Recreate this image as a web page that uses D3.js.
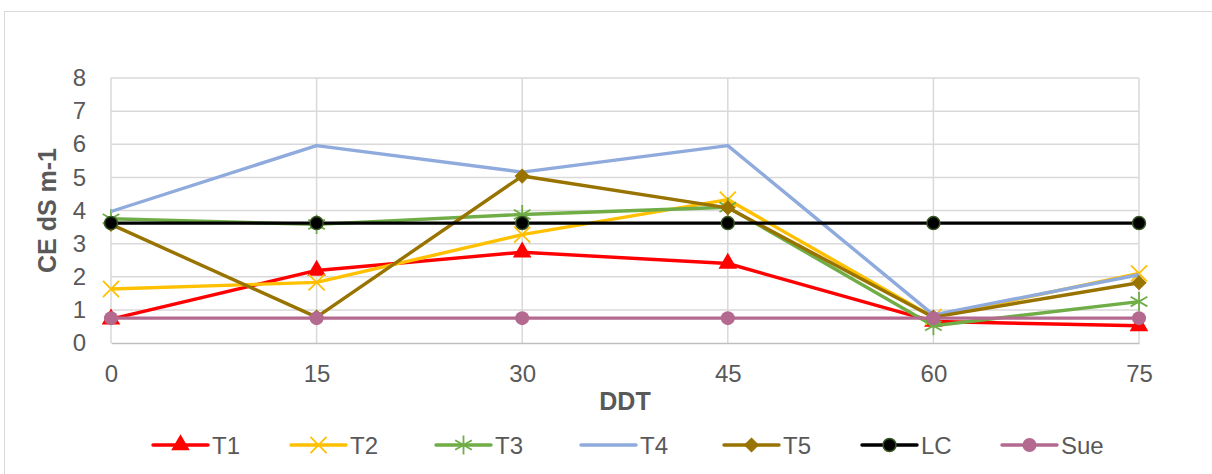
<!DOCTYPE html>
<html>
<head>
<meta charset="utf-8">
<script src="https://cdn.jsdelivr.net/npm/d3@7"></script>
<style>
  body { margin: 0; background: #fff; }
  text { font-family: "Liberation Sans", Arial, sans-serif; fill: #595959; }
</style>
</head>
<body>
<div id="chart"></div>
<script>
// x categories (DDT) and the series
const ddt = [0, 15, 30, 45, 60, 75];
const t1 = [0.72, 2.19, 2.74, 2.40, 0.65, 0.52];
const t2 = [1.63, 1.83, 3.27, 4.33, 0.78, 2.10];
const t3 = [3.75, 3.58, 3.88, 4.10, 0.52, 1.25];
const t4 = [3.97, 5.96, 5.16, 5.96, 0.85, 2.06];
const t5 = [3.58, 0.78, 5.04, 4.08, 0.78, 1.82];
const lc = [3.62, 3.62, 3.62, 3.62, 3.62, 3.62];
const sue = [0.75, 0.75, 0.75, 0.75, 0.75, 0.75];
const yTicks = [0, 1, 2, 3, 4, 5, 6, 7, 8];

const series = [
  { name: "T1", values: t1, color: "#ff0000", marker: "triangle" },
  { name: "T2", values: t2, color: "#ffc000", marker: "times" },
  { name: "T3", values: t3, color: "#70ad47", marker: "asterisk" },
  { name: "T4", values: t4, color: "#8faadc", marker: "none" },
  { name: "T5", values: t5, color: "#997300", marker: "diamond" },
  { name: "LC", values: lc, color: "#000000", marker: "circleLC" },
  { name: "Sue", values: sue, color: "#b4698f", marker: "circle" }
];

const W = 1212, H = 474;
const plot = { left: 111, right: 1139, top: 78, bottom: 343 };

const svg = d3.select("#chart").append("svg")
    .attr("width", W)
    .attr("height", H);

// outer chart border
svg.append("rect")
    .attr("x", 4.5).attr("y", 11.5)
    .attr("width", 1230).attr("height", 500)
    .attr("fill", "none")
    .attr("stroke", "#d9d9d9");

const x = d3.scaleLinear().domain([0, 75]).range([plot.left, plot.right]);
const y = d3.scaleLinear().domain([0, 8]).range([plot.bottom, plot.top]);

// gridlines
svg.append("g").selectAll("line.h")
    .data(yTicks.slice(1))
    .enter().append("line")
    .attr("x1", plot.left).attr("x2", plot.right)
    .attr("y1", d => y(d)).attr("y2", d => y(d))
    .attr("stroke", "#d9d9d9").attr("stroke-width", 1.5);

svg.append("g").selectAll("line.v")
    .data(ddt)
    .enter().append("line")
    .attr("x1", d => x(d)).attr("x2", d => x(d))
    .attr("y1", plot.top).attr("y2", plot.bottom)
    .attr("stroke", "#d9d9d9").attr("stroke-width", 1.5);

// y axis
const yAxis = svg.append("g")
    .attr("transform", "translate(" + (plot.left - 22) + ",0)")
    .call(d3.axisLeft(y).tickValues(yTicks).tickSize(0).tickFormat(d3.format("d")));
yAxis.select(".domain").remove();
yAxis.selectAll("text").attr("font-size", 24).attr("fill", "#595959").attr("font-family", null);

// x axis
const xAxis = svg.append("g")
    .attr("transform", "translate(0," + plot.bottom + ")")
    .call(d3.axisBottom(x).tickValues(ddt).tickSize(0).tickPadding(22).tickFormat(d3.format("d")));
xAxis.select(".domain").attr("stroke", "#bfbfbf").attr("stroke-width", 1.5);
xAxis.selectAll("text").attr("font-size", 24).attr("fill", "#595959").attr("font-family", null);

// axis titles
svg.append("text")
    .attr("x", (plot.left + plot.right) / 2)
    .attr("y", 410)
    .attr("text-anchor", "middle")
    .attr("font-size", 25)
    .attr("font-weight", "bold")
    .text("DDT");

svg.append("text")
    .attr("transform", "translate(56," + ((plot.top + plot.bottom) / 2) + ") rotate(-90)")
    .attr("text-anchor", "middle")
    .attr("font-size", 25)
    .attr("font-weight", "bold")
    .text("CE dS m-1");

function drawMarker(g, s) {
  if (s.marker === "none") return;
  if (s.marker === "triangle") {
    g.append("path").attr("d", d3.symbol(d3.symbolTriangle, 150)())
      .attr("fill", s.color);
  } else if (s.marker === "times") {
    g.append("path").attr("d", d3.symbol(d3.symbolTimes, 170)())
      .attr("fill", "none").attr("stroke", s.color).attr("stroke-width", 1.8);
  } else if (s.marker === "asterisk") {
    g.append("path").attr("d", d3.symbol(d3.symbolAsterisk, 260)())
      .attr("fill", "none").attr("stroke", s.color).attr("stroke-width", 1.8);
  } else if (s.marker === "diamond") {
    g.append("path").attr("d", d3.symbol(d3.symbolSquare, 95)())
      .attr("transform", "rotate(45)")
      .attr("fill", s.color).attr("stroke", s.color);
  } else if (s.marker === "circleLC") {
    g.append("circle").attr("r", 6.5)
      .attr("fill", "#000").attr("stroke", "#375623").attr("stroke-width", 1.5);
  } else if (s.marker === "circle") {
    g.append("circle").attr("r", 7).attr("fill", s.color);
  }
}

const line = d3.line()
    .x((d, i) => x(ddt[i]))
    .y(d => y(d));

series.forEach(s => {
  const g = svg.append("g");
  g.append("path")
    .attr("d", line(s.values))
    .attr("fill", "none")
    .attr("stroke", s.color)
    .attr("stroke-width", 3.4)
    .attr("stroke-linejoin", "round");
  s.values.forEach((v, i) => {
    const m = g.append("g").attr("transform", "translate(" + x(ddt[i]) + "," + y(v) + ")");
    drawMarker(m, s);
  });
});

// legend
const legendX = [153, 291, 436, 581, 724, 862, 1002];
const legendY = 445;
series.forEach((s, i) => {
  const lg = svg.append("g").attr("transform", "translate(" + legendX[i] + "," + legendY + ")");
  lg.append("line")
    .attr("x1", 0).attr("x2", 55)
    .attr("stroke", s.color).attr("stroke-width", 3.4)
    .attr("stroke-linecap", "round");
  const m = lg.append("g").attr("transform", "translate(27.5,0)");
  drawMarker(m, s);
  lg.append("text")
    .attr("x", 59)
    .attr("y", 8.5)
    .attr("font-size", 24)
    .text(s.name);
});
</script>
</body>
</html>
